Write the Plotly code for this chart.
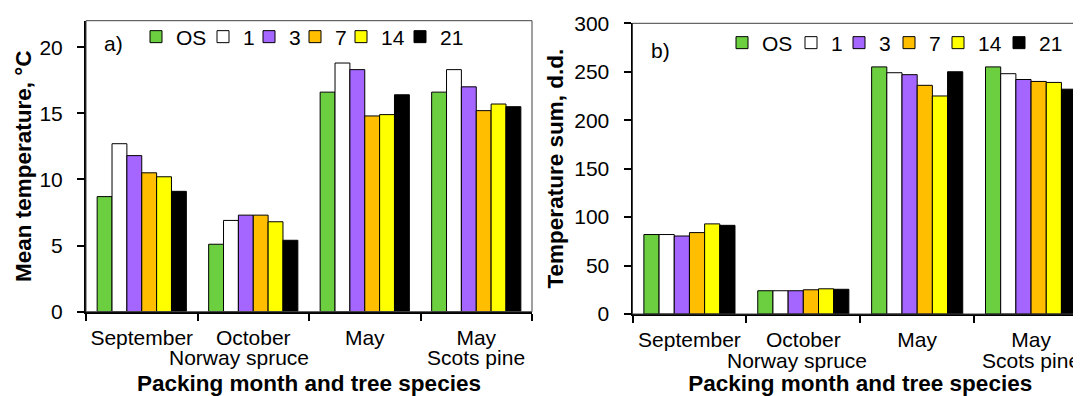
import plotly.graph_objects as go

# ---------------- data ----------------
categories = ["September", "October", "May (spruce)", "May (pine)"]
month_labels = ["September", "October", "May", "May"]
species_labels = ["Norway spruce", "Scots pine"]
species_anchor = ["October", "May (pine)"]
series_names = ["OS", "1", "3", "7", "14", "21"]
series_colors = ["#6CCF40", "#FFFFFF", "#A565FF", "#FFBF00", "#FFFF00", "#000000"]

mean_temp = {
    "OS": [8.7, 5.1, 16.6, 16.6],
    "1": [12.7, 6.9, 18.8, 18.3],
    "3": [11.8, 7.3, 18.3, 17.0],
    "7": [10.5, 7.3, 14.8, 15.2],
    "14": [10.2, 6.8, 14.9, 15.7],
    "21": [9.1, 5.4, 16.4, 15.5],
}
temp_sum = {
    "OS": [82, 24, 255, 255],
    "1": [82, 24, 249, 248],
    "3": [80.5, 24, 247, 242],
    "7": [84, 25, 236, 240],
    "14": [93, 26, 225, 239],
    "21": [91.5, 25.5, 250, 232],
}

# ---------------- layout constants ----------------
# the page body has an 8px margin, so the figure is drawn 8px in from the top-left
OFF = 8
W, H = 1100 - OFF, 396 - OFF
FONT = "Arial, Liberation Sans, sans-serif"
TICK_SIZE = 21
TITLE_SIZE = 22.5


def fx(px):
    return (px - OFF) / W


def fy(py):
    return 1 - (py - OFF) / H


dom_a_x = [fx(86), fx(532)]
dom_b_x = [fx(632.5), fx(1088)]
dom_a_y = [fy(311.7), fy(20.7)]
dom_b_y = [fy(314), fy(23.3)]

lw_a = [22, 1, 1, 1, 14, 26]
lw_b = [24, 3, 5, 4, 16, 26]

fig = go.Figure()
for i, name in enumerate(series_names):
    fig.add_trace(go.Bar(
        x=categories, y=mean_temp[name], name=name, xaxis="x", yaxis="y",
        marker=dict(color=series_colors[i], line=dict(color="black", width=1)),
        legend="legend", legendwidth=lw_a[i],
    ))
for i, name in enumerate(series_names):
    fig.add_trace(go.Bar(
        x=categories, y=temp_sum[name], name=name, xaxis="x2", yaxis="y2",
        marker=dict(color=series_colors[i], line=dict(color="black", width=1)),
        legend="legend2", legendwidth=lw_b[i],
    ))

title_font = dict(size=TITLE_SIZE, color="black", family=FONT)
tick_font = dict(size=TICK_SIZE, color="black", family=FONT)
xcommon = dict(
    type="category", tickmode="array", tickvals=categories, ticktext=month_labels,
    tickson="boundaries", ticks="outside", ticklen=7, tickwidth=1.5, tickcolor="black",
    showline=True, linecolor="black", linewidth=2, showgrid=False, zeroline=False,
    tickfont=tick_font, automargin=False, tickangle=0,
    ticklabelstandoff=6,
    title=dict(text="<b>Packing month and tree species</b>", font=title_font, standoff=28),
)
ycommon = dict(
    ticks="outside", ticklen=7, tickwidth=1.5, tickcolor="black",
    showline=True, linecolor="black", linewidth=2, showgrid=False, zeroline=False,
    tickfont=tick_font, automargin=False,
    ticklabelstandoff=10,
)

fig.update_layout(
    width=W, height=H,
    margin=dict(l=0, r=0, t=0, b=0),
    paper_bgcolor="white", plot_bgcolor="white",
    barmode="group", bargap=0.2, bargroupgap=0,
    font=dict(family=FONT, size=TICK_SIZE, color="black"),
    xaxis=dict(domain=dom_a_x, anchor="y", **xcommon),
    yaxis=dict(domain=dom_a_y, anchor="x", range=[0, 22], tickvals=[0, 5, 10, 15, 20],
               title=dict(text="<b>Mean temperature, °C</b>", font=title_font, standoff=2),
               **ycommon),
    xaxis2=dict(domain=dom_b_x, anchor="y2", **xcommon),
    yaxis2=dict(domain=dom_b_y, anchor="x2", range=[0, 300], tickvals=[0, 50, 100, 150, 200, 250, 300],
                title=dict(text="<b>Temperature sum, d.d.</b>", font=title_font, standoff=4),
                **ycommon),
    legend=dict(orientation="h", x=fx(136), y=fy(37), xanchor="left", yanchor="middle",
                font=tick_font, bgcolor="rgba(0,0,0,0)",
                itemwidth=30, traceorder="normal"),
    legend2=dict(orientation="h", x=fx(722), y=fy(43), xanchor="left", yanchor="middle",
                 font=tick_font, bgcolor="rgba(0,0,0,0)",
                 itemwidth=30, traceorder="normal"),
    showlegend=True,
)

# panel frames (thin grey top/right border)
for xr, yr in (("x domain", "y domain"), ("x2 domain", "y2 domain")):
    fig.add_shape(type="rect", xref=xr, yref=yr, x0=0, x1=1, y0=0, y1=1,
                  line=dict(color="#404040", width=1), fillcolor="rgba(0,0,0,0)", layer="above")

# panel letters
fig.add_annotation(text="a)", xref="x domain", yref="y domain", x=0.036, y=0.92,
                   xanchor="left", yanchor="middle", showarrow=False, font=tick_font)
fig.add_annotation(text="b)", xref="x2 domain", yref="y2 domain", x=0.036, y=0.905,
                   xanchor="left", yanchor="middle", showarrow=False, font=tick_font)

# species second line under the month labels
pad_a = ["\u00a0" * 5, ""]
pad_b = ["\u00a0" * 2, ""]
for j, sp in enumerate(species_labels):
    fig.add_annotation(text=sp + pad_a[j], x=species_anchor[j], xref="x", yref="paper",
                       y=fy(357.5), yanchor="middle", showarrow=False, font=tick_font)
    fig.add_annotation(text=sp + pad_b[j], x=species_anchor[j], xref="x2", yref="paper",
                       y=fy(360), yanchor="middle", showarrow=False, font=tick_font)

fig.write_html("out.html")
